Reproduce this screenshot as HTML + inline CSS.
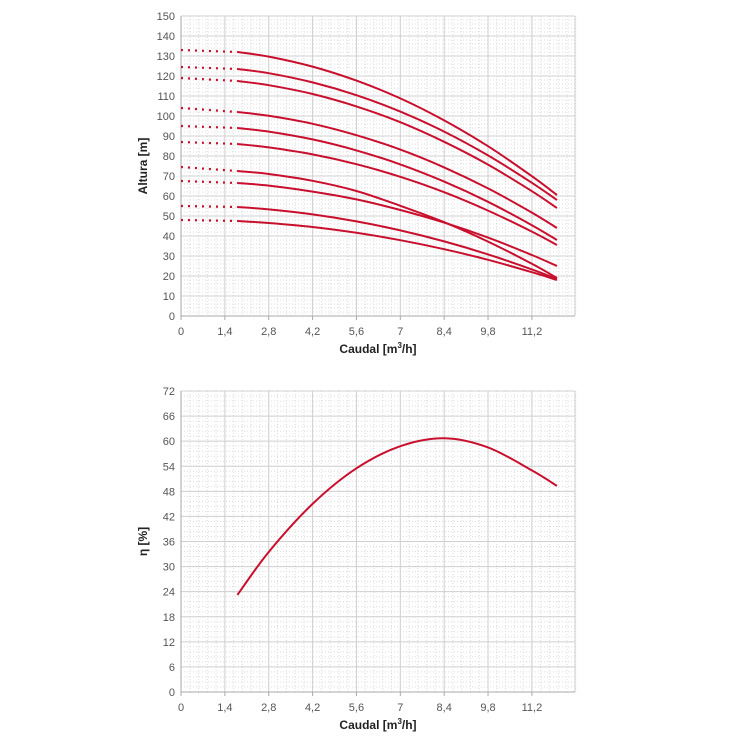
<!DOCTYPE html>
<html><head><meta charset="utf-8"><style>
body{margin:0;background:#fff;}
svg{display:block;font-family:"Liberation Sans",sans-serif;}
</style></head><body>
<svg id="c" width="750" height="750"></svg>
<script>
const flowTicks=["0","1,4","2,8","4,2","5,6","7","8,4","9,8","11,2"];
const flowPts=[1.8,2.8,4.2,5.6,7,8.4,9.8,11.2,12];
const headAtZero=[133,124.5,119,104,95,87,74.5,67.5,55,48];
const headC1=[132,129.7,124.7,117.7,108.8,97.8,84.9,69.9,60.5];
const headC2=[123.5,121.4,116.8,110.4,102.2,92.2,80.3,66.6,58];
const headC3=[117.5,115.4,111.0,104.8,96.9,87.1,75.7,62.4,54];
const headC4=[102,100.1,96.1,90.4,83.2,74.3,63.8,51.7,44];
const headC5=[94,92.2,88.3,82.8,75.8,67.2,57.1,45.4,38];
const headC6=[86,84.3,80.8,75.9,69.6,61.9,52.7,42.2,35.5];
const headC7=[72.5,71.0,67.6,62.5,55.1,46.9,37.2,26.1,19];
const headC8=[66.5,65.2,62.2,58.3,53.0,46.7,39.2,30.5,25];
const headC9=[54.5,53.3,50.8,47.3,42.8,37.3,30.8,23.3,18.5];
const headC10=[47.5,46.5,44.5,41.6,37.9,33.4,28.1,21.9,18];
const headTicks=[0,10,20,30,40,50,60,70,80,90,100,110,120,130,140,150];
const effVals=[23.2,33.5,45,53.5,58.8,60.7,58.5,53,49.3];
const effTicks=[0,6,12,18,24,30,36,42,48,54,60,66,72];

const NS="http://www.w3.org/2000/svg";
const svg=document.getElementById('c');
const RED="#c8102e";
function mk(tag,attrs,parent){const e=document.createElementNS(NS,tag);for(const k in attrs)e.setAttribute(k,attrs[k]);(parent||svg).appendChild(e);return e;}
const X0=181,XR=575,XPU=31.33;
const xS=v=>X0+v*XPU;
function smooth(pts){let d="M"+pts[0][0]+","+pts[0][1];for(let i=0;i<pts.length-1;i++){const p0=pts[i-1]||pts[i],p1=pts[i],p2=pts[i+1],p3=pts[i+2]||p2;const c1=[p1[0]+(p2[0]-p0[0])/6,p1[1]+(p2[1]-p0[1])/6],c2=[p2[0]-(p3[0]-p1[0])/6,p2[1]-(p3[1]-p1[1])/6];d+=" C"+c1+" "+c2+" "+p2;}return d;}

function panel(name,yTop,yBot,maxV,ticks,minorStep,yTitle){
  const yS=v=>yBot-(v/maxV)*(yBot-yTop);
  const g=mk('g',{});
  
  
  // minor grid
  for(let v=0;v<=12.6;v+=0.28){const x=xS(v);mk('line',{x1:x,x2:x,y1:yTop,y2:yBot,stroke:"#dcdcdc","stroke-width":1,"stroke-dasharray":"1,2"},g);}
  for(let v=0;v<=maxV+1e-6;v+=minorStep){const y=yS(v);mk('line',{x1:X0,x2:XR,y1:y,y2:y,stroke:"#dcdcdc","stroke-width":1,"stroke-dasharray":"1,2"},g);}
  // major
  for(let i=1;i<flowTicks.length;i++){const x=xS(i*1.4);mk('line',{x1:x,x2:x,y1:yTop,y2:yBot,stroke:"#d0d0d0","stroke-width":1},g);}
  ticks.forEach(t=>{const y=yS(t);mk('line',{x1:X0,x2:XR,y1:y,y2:y,stroke:"#d0d0d0","stroke-width":1},g);
    const tx=mk('text',{x:X0-6,y:y+4,"text-anchor":"end","font-size":11,fill:"#555"});tx.textContent=t;
    
    });
  mk('line',{x1:XR,x2:XR,y1:yTop,y2:yBot,stroke:"#d0d0d0"},g);
  mk('line',{x1:X0,x2:X0,y1:yTop,y2:yBot+3,stroke:"#aaa"},g);
  mk('line',{x1:X0,x2:XR,y1:yBot,y2:yBot,stroke:"#aaa"},g);
  flowTicks.forEach((t,i)=>{const x=xS(i*1.4);
    mk('line',{x1:x,x2:x,y1:yBot,y2:yBot+4,stroke:"#aaa"},g);
    const tx=mk('text',{x:x,y:yBot+19,"text-anchor":"middle","font-size":11,fill:"#555"});tx.textContent=t;
    
    });
  const xt=mk('text',{x:378,y:yBot+37,"text-anchor":"middle","font-size":12,"font-weight":"bold",fill:"#222"});
  xt.innerHTML='Caudal [m<tspan dy="-5" font-size="8">3</tspan><tspan dy="5">/h]</tspan>';
  
  
  const ym=(yTop+yBot)/2;
  const yt=mk('text',{x:147,y:ym,"text-anchor":"middle","font-size":12,"font-weight":"bold",fill:"#222",transform:"rotate(-90 147 "+ym+")"});
  yt.textContent=yTitle;
  
  
  return yS;
}

const yH=panel('head',16,316,150,headTicks,2,'Altura [m]');
const yE=panel('efficiency',391,692,72,effTicks,1.2,'η [%]');

const heads=[headC1,headC2,headC3,headC4,headC5,headC6,headC7,headC8,headC9,headC10];
heads.forEach((arr,i)=>{
  const dl=mk('line',{x1:xS(0),y1:yH(headAtZero[i]),x2:xS(flowPts[0]),y2:yH(arr[0]),stroke:RED,"stroke-width":2.2,"stroke-dasharray":"2,5"});
  
  
  const p=mk('path',{d:smooth(arr.map((v,j)=>[xS(flowPts[j]),yH(v)])),fill:"none",stroke:RED,"stroke-width":2});
  
  
});
const ep=mk('path',{d:smooth(effVals.map((v,j)=>[xS(flowPts[j]),yE(v)])),fill:"none",stroke:RED,"stroke-width":2});


</script>
</body></html>
